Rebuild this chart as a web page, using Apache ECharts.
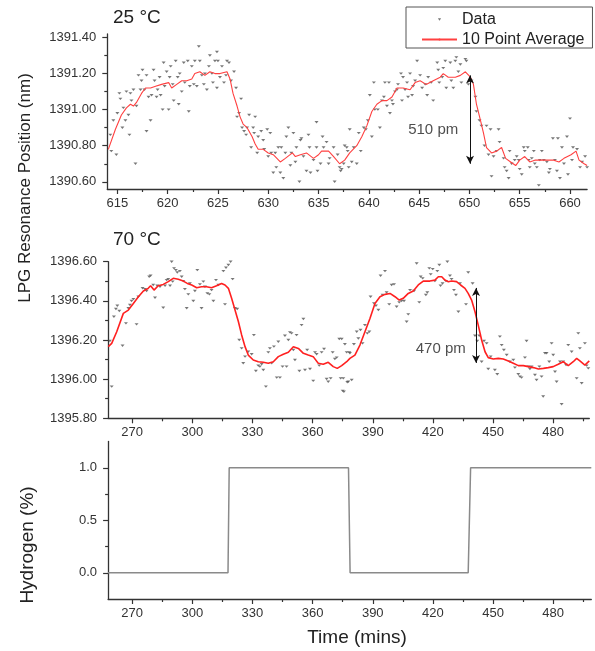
<!DOCTYPE html>
<html><head><meta charset="utf-8">
<script src="https://cdn.jsdelivr.net/npm/echarts@6/dist/echarts.min.js"></script>
<style>html,body{margin:0;padding:0;background:#fff}#c{width:595px;height:651px}</style>
</head><body><div id="c"></div>
<script>
// ---------- DATA ----------
const data25 = [[614.3,1390.86],[614.4,1390.77],[614.6,1390.94],[614.9,1390.75],[615.0,1390.98],[615.2,1391.09],[615.3,1391.06],[615.5,1390.90],[615.6,1391.01],[615.8,1390.94],[615.9,1391.10],[616.1,1390.97],[616.2,1390.86],[616.3,1391.09],[616.4,1391.05],[616.6,1391.11],[616.8,1390.70],[616.9,1391.02],[617.1,1391.19],[617.3,1391.11],[617.4,1391.16],[617.5,1391.22],[617.7,1391.11],[617.9,1390.88],[617.9,1391.19],[618.1,1391.07],[618.3,1390.94],[618.4,1391.08],[618.6,1391.22],[618.7,1391.16],[618.9,1391.07],[619.0,1391.11],[619.2,1391.18],[619.3,1391.08],[619.5,1391.00],[619.6,1391.26],[619.7,1391.13],[619.9,1391.21],[620.1,1391.00],[620.2,1391.18],[620.3,1391.24],[620.5,1391.14],[620.6,1391.05],[620.8,1391.27],[621.0,1391.18],[621.1,1391.03],[621.2,1391.20],[621.4,1391.10],[621.6,1391.26],[621.7,1391.15],[622.0,1391.27],[622.1,1390.99],[622.2,1391.13],[622.4,1391.24],[622.6,1391.14],[622.7,1391.27],[622.9,1391.13],[623.1,1391.35],[623.2,1391.27],[623.4,1391.19],[623.6,1391.14],[623.7,1391.20],[623.9,1391.11],[624.1,1391.24],[624.2,1391.30],[624.4,1391.20],[624.5,1391.15],[624.7,1391.27],[624.9,1391.12],[624.9,1391.32],[625.0,1391.27],[625.2,1391.18],[625.4,1391.24],[625.6,1391.15],[625.8,1391.19],[625.9,1391.27],[626.1,1391.26],[626.3,1391.16],[626.6,1391.21],[626.8,1391.12],[626.9,1390.96],[627.1,1390.98],[627.3,1391.06],[627.4,1390.90],[627.6,1390.88],[627.8,1390.86],[627.9,1390.90],[628.1,1390.97],[628.3,1390.79],[628.5,1390.90],[628.6,1390.87],[628.7,1390.96],[628.9,1390.76],[629.0,1390.85],[629.3,1390.88],[629.5,1390.83],[629.6,1390.78],[629.9,1390.89],[630.0,1390.74],[630.2,1390.87],[630.3,1390.76],[630.5,1390.65],[630.7,1390.76],[630.8,1390.68],[631.0,1390.79],[631.2,1390.65],[631.3,1390.79],[631.5,1390.62],[631.7,1390.76],[631.8,1390.85],[632.0,1390.90],[632.2,1390.69],[632.3,1390.76],[632.5,1390.87],[632.7,1390.71],[632.8,1390.79],[633.1,1390.60],[633.2,1390.83],[633.3,1390.84],[633.5,1390.74],[633.8,1390.66],[634.0,1390.86],[634.1,1390.79],[634.2,1390.65],[634.5,1390.72],[634.8,1390.79],[634.8,1390.93],[634.9,1390.66],[635.2,1390.70],[635.4,1390.85],[635.5,1390.79],[635.8,1390.82],[636.0,1390.70],[636.1,1390.73],[636.5,1390.79],[636.6,1390.60],[636.9,1390.75],[637.1,1390.68],[637.2,1390.66],[637.3,1390.67],[637.5,1390.70],[637.6,1390.80],[637.8,1390.79],[637.9,1390.77],[638.0,1390.68],[638.1,1390.89],[638.3,1390.71],[638.5,1390.79],[638.8,1390.70],[639.0,1390.87],[639.2,1390.77],[639.5,1390.90],[639.7,1390.89],[639.9,1390.94],[640.1,1391.08],[640.3,1390.85],[640.5,1391.15],[640.6,1391.00],[640.9,1391.00],[641.1,1390.90],[641.3,1391.05],[641.5,1391.07],[641.6,1391.15],[641.8,1391.02],[642.0,1391.15],[642.1,1390.98],[642.3,1391.05],[642.4,1391.03],[642.6,1391.10],[642.8,1391.11],[642.9,1391.14],[643.2,1391.20],[643.3,1391.05],[643.4,1391.18],[643.6,1391.11],[643.8,1391.15],[643.9,1391.07],[644.1,1391.20],[644.3,1391.08],[644.4,1391.13],[644.6,1391.16],[644.8,1391.27],[645.1,1391.19],[645.3,1391.12],[645.6,1391.14],[645.8,1391.08],[645.9,1391.18],[646.2,1391.15],[646.4,1391.05],[646.8,1391.26],[646.9,1391.22],[647.0,1391.15],[647.3,1391.18],[647.4,1391.23],[647.6,1391.27],[647.7,1391.12],[648.1,1391.26],[648.2,1391.16],[648.4,1391.12],[648.6,1391.27],[648.7,1391.29],[648.9,1391.21],[649.1,1391.25],[649.2,1391.15],[649.6,1391.28],[649.7,1391.27],[649.9,1391.14],[650.2,1391.16],[650.6,1391.07],[650.7,1390.99],[651.0,1390.94],[651.2,1390.91],[651.5,1390.80],[651.7,1390.91],[651.9,1390.75],[652.1,1390.89],[652.2,1390.63],[652.4,1390.74],[652.7,1390.77],[652.9,1390.89],[653.0,1390.82],[653.4,1390.73],[653.5,1390.68],[653.7,1390.66],[653.9,1390.62],[654.0,1390.77],[654.2,1390.70],[654.5,1390.72],[654.7,1390.74],[654.9,1390.72],[655.0,1390.67],[655.2,1390.64],[655.4,1390.79],[655.5,1390.77],[655.8,1390.79],[655.9,1390.72],[656.0,1390.68],[656.2,1390.73],[656.4,1390.77],[656.5,1390.70],[656.7,1390.68],[656.9,1390.58],[657.0,1390.72],[657.2,1390.77],[657.4,1390.72],[657.7,1390.71],[657.9,1390.65],[658.0,1390.67],[658.3,1390.84],[658.5,1390.72],[658.7,1390.66],[658.8,1390.84],[659.0,1390.62],[659.2,1390.79],[659.4,1390.70],[659.7,1390.85],[659.8,1390.64],[660.0,1390.95],[660.2,1390.72],[660.3,1390.79],[660.7,1390.78],[661.0,1390.68],[661.2,1390.71],[661.5,1390.74],[661.7,1390.68]];

const avg25 = [[614.1,1390.78],[614.8,1390.89],[615.4,1390.97],[615.9,1391.01],[616.3,1391.03],[616.6,1391.02],[616.9,1391.04],[617.4,1391.09],[617.8,1391.12],[618.3,1391.12],[618.8,1391.13],[619.4,1391.14],[620.1,1391.15],[620.4,1391.12],[620.9,1391.14],[621.4,1391.16],[621.9,1391.16],[622.4,1391.17],[622.7,1391.20],[623.2,1391.21],[623.7,1391.19],[624.2,1391.21],[624.7,1391.20],[625.2,1391.20],[625.9,1391.21],[626.2,1391.17],[626.5,1391.09],[626.9,1391.02],[627.2,1390.96],[627.5,1390.92],[627.9,1390.90],[628.4,1390.85],[628.7,1390.81],[629.0,1390.78],[629.5,1390.78],[630.0,1390.76],[630.5,1390.75],[631.2,1390.71],[631.7,1390.73],[632.4,1390.76],[632.7,1390.74],[633.2,1390.75],[633.8,1390.76],[634.5,1390.73],[635.0,1390.75],[635.3,1390.77],[636.0,1390.77],[636.5,1390.74],[637.1,1390.70],[637.6,1390.72],[638.1,1390.76],[638.8,1390.80],[639.3,1390.85],[639.8,1390.91],[640.3,1390.99],[640.8,1391.03],[641.3,1391.05],[641.8,1391.05],[642.3,1391.07],[642.8,1391.12],[643.4,1391.12],[644.1,1391.11],[644.6,1391.15],[645.1,1391.16],[645.7,1391.14],[646.4,1391.16],[647.1,1391.18],[647.4,1391.20],[647.9,1391.18],[648.6,1391.18],[649.1,1391.19],[649.6,1391.21],[650.1,1391.18],[650.4,1391.14],[650.7,1391.03],[651.1,1390.94],[651.4,1390.87],[651.7,1390.79],[652.2,1390.76],[652.7,1390.77],[653.2,1390.79],[653.6,1390.73],[654.1,1390.71],[654.6,1390.69],[655.0,1390.72],[655.5,1390.74],[656.0,1390.71],[656.5,1390.72],[657.0,1390.72],[657.7,1390.72],[658.4,1390.72],[658.9,1390.71],[659.4,1390.73],[660.1,1390.75],[660.6,1390.77],[660.9,1390.72],[661.4,1390.70],[661.7,1390.69]];

const data70 = [[258.9,1396.195],[259.8,1395.962],[260.9,1396.319],[261.9,1396.358],[262.6,1396.375],[263.6,1396.348],[265.2,1396.171],[266.9,1396.285],[268.1,1396.362],[268.9,1396.379],[269.7,1396.399],[270.6,1396.409],[272.2,1396.28],[273.1,1396.421],[275.2,1396.464],[276.4,1396.46],[277.2,1396.45],[278.5,1396.523],[279.2,1396.528],[280.5,1396.481],[281.4,1396.416],[282.5,1396.477],[283.9,1396.472],[285.5,1396.365],[286.4,1396.477],[287.2,1396.506],[288.0,1396.511],[288.9,1396.477],[289.7,1396.60],[290.2,1396.498],[290.9,1396.566],[291.8,1396.557],[292.5,1396.545],[293.8,1396.552],[294.7,1396.523],[295.5,1396.501],[296.3,1396.46],[297.2,1396.362],[298.0,1396.433],[298.8,1396.489],[300.5,1396.399],[301.3,1396.45],[302.5,1396.557],[303.8,1396.484],[304.6,1396.362],[305.5,1396.498],[306.3,1396.472],[307.5,1396.438],[308.5,1396.433],[309.6,1396.455],[310.5,1396.399],[311.8,1396.506],[313.0,1396.481],[315.5,1396.552],[316.3,1396.382],[316.8,1396.569],[318.0,1396.583],[319.1,1396.60],[320.1,1396.511],[321.3,1396.362],[322.4,1396.358],[323.4,1396.2],[324.6,1396.157],[325.4,1396.081],[326.3,1396.115],[327.9,1396.14],[329.6,1396.127],[330.7,1396.225],[331.7,1396.042],[332.9,1396.069],[333.7,1396.064],[334.6,1396.076],[335.4,1396.047],[336.7,1395.962],[337.9,1396.137],[338.7,1396.157],[339.6,1396.081],[340.7,1396.166],[342.1,1396.008],[342.9,1396.191],[343.7,1396.008],[345.0,1396.064],[346.2,1396.222],[347.0,1396.064],[347.9,1396.2],[348.7,1396.239],[349.5,1396.234],[350.4,1396.149],[351.2,1396.098],[352.0,1396.225],[353.4,1396.042],[354.5,1396.276],[355.4,1396.307],[356.2,1396.047],[357.3,1396.149],[358.7,1396.052],[360.3,1395.991],[361.2,1396.137],[362.0,1396.127],[363.3,1396.069],[364.5,1396.137],[365.7,1396.154],[367.0,1396.001],[367.8,1395.987],[369.0,1396.004],[370.0,1396.137],[371.1,1396.103],[372.0,1396.11],[373.3,1396.205],[374.0,1396.004],[374.5,1396.205],[375.0,1395.94],[375.3,1396.004],[375.6,1395.936],[376.1,1396.178],[377.0,1396.137],[377.3,1395.984],[377.8,1395.987],[378.3,1396.137],[378.6,1396.132],[379.5,1395.996],[380.6,1396.178],[382.0,1396.242],[382.8,1396.208],[383.9,1396.251],[384.9,1396.183],[386.1,1396.276],[387.3,1396.234],[388.3,1396.242],[388.9,1396.421],[390.6,1396.387],[391.6,1396.375],[392.8,1396.353],[393.9,1396.528],[394.9,1396.43],[396.1,1396.552],[396.9,1396.443],[398.2,1396.382],[399.4,1396.481],[400.6,1396.484],[401.9,1396.37],[403.2,1396.392],[404.4,1396.399],[405.6,1396.399],[406.9,1396.293],[407.7,1396.331],[408.6,1396.455],[410.6,1396.45],[411.9,1396.591],[413.2,1396.392],[413.9,1396.523],[414.9,1396.515],[416.5,1396.43],[417.2,1396.443],[418.2,1396.566],[418.9,1396.535],[419.9,1396.562],[421.0,1396.501],[422.2,1396.552],[423.2,1396.583],[423.8,1396.477],[424.8,1396.489],[426.5,1396.501],[427.2,1396.60],[428.5,1396.528],[429.3,1396.511],[430.5,1396.455],[431.5,1396.43],[432.7,1396.344],[433.5,1396.489],[436.5,1396.382],[437.6,1396.545],[439.8,1396.489],[441.0,1396.222],[442.1,1396.195],[443.1,1396.222],[444.3,1396.089],[445.5,1396.195],[446.8,1396.183],[447.6,1396.052],[448.8,1396.115],[450.9,1396.047],[452.1,1396.025],[453.4,1396.217],[454.3,1396.174],[455.4,1396.149],[456.8,1396.123],[458.4,1396.089],[460.1,1396.098],[460.9,1396.059],[462.6,1396.025],[463.4,1396.013],[464.2,1396.008],[465.9,1396.11],[466.7,1396.195],[467.6,1396.064],[468.4,1396.052],[469.2,1396.064],[470.9,1396.021],[471.7,1395.996],[473.1,1396.064],[474.2,1396.013],[475.0,1395.911],[475.9,1396.132],[476.7,1396.132],[478.0,1396.089],[479.2,1396.183],[480.0,1396.123],[480.9,1396.038],[481.7,1395.987],[483.4,1396.089],[484.2,1395.872],[485.0,1396.089],[486.4,1396.072],[487.5,1396.174],[489.2,1396.14],[491.7,1396.004],[492.5,1396.234],[493.3,1396.157],[494.2,1395.979],[495.8,1396.183],[496.7,1396.069],[497.5,1396.055]];

const avg70 = [[258.1,1396.166],[259.8,1396.183],[262.3,1396.242],[265.6,1396.336],[268.1,1396.353],[270.6,1396.387],[273.1,1396.421],[275.6,1396.45],[278.0,1396.464],[279.2,1396.477],[280.9,1396.455],[283.0,1396.477],[285.5,1396.484],[288.0,1396.498],[290.5,1396.515],[293.0,1396.51],[295.5,1396.501],[297.5,1396.489],[299.7,1396.481],[302.2,1396.467],[304.6,1396.472],[307.1,1396.472],[309.6,1396.467],[312.1,1396.477],[314.6,1396.489],[316.3,1396.481],[318.0,1396.464],[319.6,1396.413],[321.3,1396.353],[323.0,1396.293],[324.6,1396.226],[326.3,1396.166],[327.9,1396.123],[330.4,1396.098],[332.9,1396.089],[335.4,1396.086],[337.9,1396.081],[340.4,1396.089],[342.9,1396.115],[345.4,1396.127],[347.9,1396.137],[350.4,1396.166],[352.9,1396.157],[355.4,1396.132],[357.8,1396.123],[360.3,1396.115],[362.8,1396.081],[365.3,1396.076],[367.8,1396.086],[370.3,1396.064],[372.3,1396.055],[374.5,1396.069],[377.0,1396.089],[378.6,1396.106],[381.1,1396.123],[383.6,1396.174],[386.1,1396.242],[388.6,1396.31],[391.1,1396.387],[393.6,1396.421],[396.1,1396.433],[398.6,1396.438],[401.1,1396.421],[403.2,1396.404],[405.2,1396.413],[407.7,1396.438],[410.2,1396.45],[412.7,1396.481],[415.2,1396.501],[418.5,1396.501],[421.0,1396.506],[422.7,1396.523],[424.4,1396.523],[426.0,1396.506],[427.7,1396.498],[429.3,1396.501],[431.8,1396.498],[433.8,1396.481],[436.0,1396.464],[437.6,1396.438],[439.3,1396.404],[441.0,1396.344],[442.6,1396.276],[444.3,1396.2],[446.0,1396.14],[447.6,1396.11],[450.1,1396.103],[452.6,1396.106],[455.1,1396.103],[457.6,1396.093],[460.1,1396.081],[462.6,1396.069],[465.1,1396.069],[467.6,1396.064],[470.1,1396.059],[472.6,1396.052],[475.1,1396.055],[477.5,1396.059],[480.0,1396.064],[482.5,1396.076],[485.0,1396.089],[487.5,1396.069],[490.0,1396.089],[491.7,1396.106],[493.3,1396.093],[495.8,1396.072],[498.0,1396.093]];

const hydrogenTime  = [258, 317.8, 318.4, 377.9, 378.7, 437.6, 438.8, 499];
const hydrogenLevel = [0, 0, 1, 1, 0, 0, 1, 1];

// annotations: [x, yTop, yBottom], label [x, y, text]
const arrow25 = [650.06, 1391.19, 1390.70];
const note25  = [646.4, 1390.886, '510 pm'];
const arrow70 = [441.5, 1396.466, 1396.083];
const note70  = [423.9, 1396.154, '470 pm'];

// axis ticks
const ticks25X = [615, 620, 625, 630, 635, 640, 645, 650, 655, 660];
const minor25X = [617.5, 622.5, 627.5, 632.5, 637.5, 642.5, 647.5, 652.5, 657.5];
const ticks25Y = [1390.6, 1390.8, 1391.0, 1391.2, 1391.4];
const minor25Y = [1390.7, 1390.9, 1391.1, 1391.3];
const ticksTimeX = [270, 300, 330, 360, 390, 420, 450, 480];
const minorTimeX = [285, 315, 345, 375, 405, 435, 465, 495];
const ticks70Y = [1395.8, 1396.0, 1396.2, 1396.4, 1396.6];
const minor70Y = [1395.9, 1396.1, 1396.3, 1396.5];
const ticksH2Y = [0, 0.5, 1.0];
const minorH2Y = [0.25, 0.75];

// ---------- CHART ----------
const FONT = 'Liberation Sans, Arial, sans-serif';
const AX = '#333';
const chart = echarts.init(document.getElementById('c'), null, {renderer: 'canvas'});

function majorAxis(grid, min, max, ticks, pos, fmt) {
  return {
    type: 'value', gridIndex: grid, min: min, max: max, position: pos,
    splitLine: {show: false},
    axisLine: {show: true, onZero: false, lineStyle: {color: AX, width: 1.3}},
    axisTick: {show: true, inside: false, length: 5, customValues: ticks, lineStyle: {color: AX, width: 1.2}},
    axisLabel: {show: true, customValues: ticks, margin: pos === 'left' ? 11 : 8,
      color: '#333', fontSize: 13, fontFamily: FONT, formatter: fmt}
  };
}
function minorAxis(grid, min, max, ticks, pos) {
  return {
    type: 'value', gridIndex: grid, min: min, max: max, position: pos,
    splitLine: {show: false},
    axisLine: {show: false, onZero: false},
    axisTick: {show: true, inside: false, length: 3, customValues: ticks, lineStyle: {color: AX, width: 1.2}},
    axisLabel: {show: false}
  };
}
const dataSymbol = 'path://M0,0L10,0L5,8Z';

const option = {
  animation: false,
  backgroundColor: '#fff',
  textStyle: {fontFamily: FONT},
  title: [
    {text: '25 °C', left: 113, top: 8, padding: 0, textStyle: {fontSize: 19, fontWeight: 'normal', color: '#222', fontFamily: FONT}},
    {text: '70 °C', left: 113, top: 230.5, padding: 0, textStyle: {fontSize: 19, fontWeight: 'normal', color: '#222', fontFamily: FONT}}
  ],
  legend: {
    orient: 'vertical', left: 406, top: 7, padding: [4.5, 8, 0.5, 15],
    itemWidth: 35, itemHeight: 2.5, itemGap: 4,
    borderColor: '#555', borderWidth: 1,
    textStyle: {fontSize: 16, color: '#222', fontFamily: FONT},
    data: [
      {name: 'Data', icon: dataSymbol},
      {name: '10 Point Average'}
    ]
  },
  grid: [
    {left: 107.3, right: 7.9, top: 33.9, height: 155.1},
    {left: 108.1, right: 5.7, top: 261.7, height: 156.6},
    {left: 108.1, right: 3.7, top: 441.5, height: 157.5}
  ],
  xAxis: [
    majorAxis(0, 614, 661.7, ticks25X, 'bottom', v => String(v)),
    minorAxis(0, 614, 661.7, minor25X, 'bottom'),
    majorAxis(1, 258, 498, ticksTimeX, 'bottom', v => String(v)),
    minorAxis(1, 258, 498, minorTimeX, 'bottom'),
    majorAxis(2, 258, 499, ticksTimeX, 'bottom', v => String(v)),
    minorAxis(2, 258, 499, minorTimeX, 'bottom')
  ],
  yAxis: [
    majorAxis(0, 1390.56, 1391.42, ticks25Y, 'left', v => v.toFixed(2)),
    minorAxis(0, 1390.56, 1391.42, minor25Y, 'left'),
    majorAxis(1, 1395.8, 1396.6, ticks70Y, 'left', v => v.toFixed(2)),
    minorAxis(1, 1395.8, 1396.6, minor70Y, 'left'),
    majorAxis(2, -0.25, 1.25, ticksH2Y, 'left', v => v.toFixed(1)),
    minorAxis(2, -0.25, 1.25, minorH2Y, 'left')
  ],
  graphic: [
    {type: 'text', x: 25, y: 188, rotation: Math.PI / 2,
      style: {text: 'LPG Resonance Position (nm)', fontSize: 17, fill: '#222', fontFamily: FONT, align: 'center', verticalAlign: 'middle', textAlign: 'center', textVerticalAlign: 'middle'}},
    {type: 'text', x: 28, y: 545, rotation: Math.PI / 2,
      style: {text: 'Hydrogen (%)', fontSize: 19, fill: '#222', fontFamily: FONT, align: 'center', verticalAlign: 'middle', textAlign: 'center', textVerticalAlign: 'middle'}},
    {type: 'text', x: 357, y: 638,
      style: {text: 'Time (mins)', fontSize: 19, fill: '#222', fontFamily: FONT, align: 'center', verticalAlign: 'middle', textAlign: 'center', textVerticalAlign: 'middle'}}
  ],
  series: [
    {name: 'Data', type: 'scatter', xAxisIndex: 0, yAxisIndex: 0, data: data25,
      symbol: dataSymbol, symbolSize: [4, 3], symbolKeepAspect: true, itemStyle: {color: '#555'}},
    {name: '10 Point Average', type: 'line', xAxisIndex: 0, yAxisIndex: 0, data: avg25,
      symbol: 'none', lineStyle: {color: '#ff4040', width: 1.1}, itemStyle: {color: '#ff4040'},
      markLine: {silent: true, symbol: ['arrow', 'arrow'], symbolSize: [6, 8], label: {show: false},
        lineStyle: {color: '#111', width: 1, type: 'solid'},
        data: [[{coord: [arrow25[0], arrow25[1]]}, {coord: [arrow25[0], arrow25[2]]}]]}},
    {name: 'note25', type: 'scatter', xAxisIndex: 0, yAxisIndex: 0, symbolSize: 0, silent: true,
      data: [[note25[0], note25[1]]],
      label: {show: true, position: 'inside', formatter: note25[2], fontSize: 15, color: '#222', fontFamily: FONT}},
    {name: 'Data', type: 'scatter', xAxisIndex: 2, yAxisIndex: 2, data: data70,
      symbol: dataSymbol, symbolSize: [4, 3], symbolKeepAspect: true, itemStyle: {color: '#555'}},
    {name: '10 Point Average', type: 'line', xAxisIndex: 2, yAxisIndex: 2, data: avg70,
      symbol: 'none', lineStyle: {color: '#ff2020', width: 1.6}, itemStyle: {color: '#ff2020'},
      markLine: {silent: true, symbol: ['arrow', 'arrow'], symbolSize: [6, 8], label: {show: false},
        lineStyle: {color: '#111', width: 1, type: 'solid'},
        data: [[{coord: [arrow70[0], arrow70[1]]}, {coord: [arrow70[0], arrow70[2]]}]]}},
    {name: 'note70', type: 'scatter', xAxisIndex: 2, yAxisIndex: 2, symbolSize: 0, silent: true,
      data: [[note70[0], note70[1]]],
      label: {show: true, position: 'inside', formatter: note70[2], fontSize: 15, color: '#222', fontFamily: FONT}},
    {name: 'Hydrogen', type: 'line', xAxisIndex: 4, yAxisIndex: 4,
      data: hydrogenTime.map((t, i) => [t, hydrogenLevel[i]]),
      symbol: 'none', lineStyle: {color: '#8a8a8a', width: 1.5}}
  ]
};
chart.setOption(option);
</script>
</body></html>
